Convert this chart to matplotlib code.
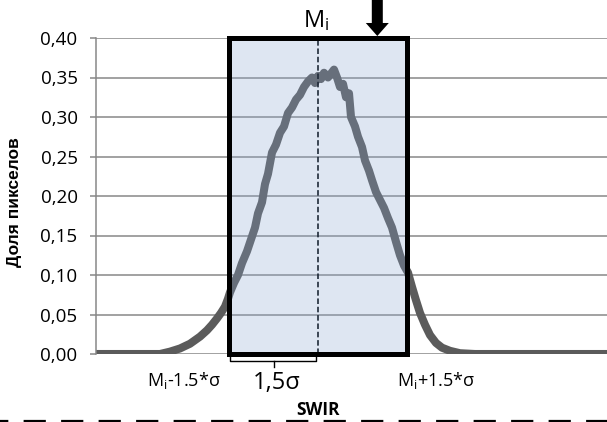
import matplotlib
matplotlib.use("Agg")
import matplotlib.pyplot as plt
from matplotlib.patches import Rectangle
from matplotlib.lines import Line2D

plt.rcParams['font.family'] = ['Open Sans', 'DejaVu Sans']
plt.rcParams['mathtext.fontset'] = 'custom'
plt.rcParams['mathtext.rm'] = 'Open Sans'
plt.rcParams['lines.scale_dashes'] = False

# SWIR values (no ticks on the x axis) and share of pixels
swir = [0, 24, 54, 64, 74, 84, 94, 104, 111, 116,
        121, 125, 129, 132, 134, 138, 142, 146, 151, 155,
        159, 162, 166, 169, 172, 176, 180, 184, 188, 192,
        196, 200, 204, 208, 212, 216, 219, 222, 225, 228,
        232, 235, 238, 241, 244, 247, 250, 253, 255, 259,
        262, 266, 269, 273, 276, 280, 284, 288, 292, 296,
        300, 304, 308, 312, 316, 320, 324, 329, 334, 340,
        346, 354, 364, 379, 511]
share = [0, 0, 0, 0, 0.003, 0.007, 0.013, 0.022, 0.030, 0.037,
         0.045, 0.052, 0.060, 0.070, 0.078, 0.090, 0.100, 0.115, 0.130, 0.145,
         0.160, 0.178, 0.192, 0.215, 0.228, 0.255, 0.265, 0.280, 0.288, 0.305,
         0.312, 0.322, 0.328, 0.338, 0.345, 0.350, 0.343, 0.352, 0.348, 0.356,
         0.350, 0.355, 0.360, 0.350, 0.338, 0.342, 0.325, 0.330, 0.300, 0.288,
         0.275, 0.262, 0.245, 0.232, 0.220, 0.205, 0.195, 0.185, 0.172, 0.160,
         0.142, 0.125, 0.112, 0.103, 0.085, 0.068, 0.052, 0.037, 0.024, 0.014,
         0.008, 0.004, 0.001, 0, 0]

mean_i = 222
sigma = 59.3
yticks = [0.0, 0.05, 0.10, 0.15, 0.20, 0.25, 0.30, 0.35, 0.40]
ytick_labels = ['0,00', '0,05', '0,10', '0,15', '0,20', '0,25', '0,30', '0,35', '0,40']

fig = plt.figure(figsize=(6.07, 4.22), dpi=100)
ax = fig.add_axes([96/607, 68/422, 511/607, 316/422])

ax.set_xlim(0, 511)
ax.set_ylim(0, 0.40)
ax.set_yticks(yticks)
ax.set_yticklabels(ytick_labels, fontsize=13.5)
ax.set_xticks([])
ax.tick_params(axis='y', length=4.3, width=1.1, color='#878787', pad=9, labelcolor='black')
ax.yaxis.grid(True, color='#878787', lw=1.1)
ax.set_axisbelow(True)
for s in ['top', 'right', 'bottom']:
    ax.spines[s].set_visible(False)
ax.spines['left'].set_color('#878787')
ax.spines['left'].set_linewidth(1.1)

ax.plot(swir, share, color='#5b5b5b', lw=5.8, zorder=2, solid_joinstyle='round')

lo = mean_i - 1.5 * sigma
hi = mean_i + 1.5 * sigma
# translucent window over the curve
ax.add_patch(Rectangle((lo, 0), hi - lo, 0.40, facecolor='#8aa7d3', alpha=0.275,
                       edgecolor='none', zorder=3))
ax.add_patch(Rectangle((lo, 0), hi - lo, 0.40, facecolor='none', edgecolor='black',
                       lw=3.6, zorder=5, clip_on=False, joinstyle='miter'))
ax.plot([mean_i, mean_i], [0, 0.40], color='#1f2a38', lw=1.2, ls=(0, (4, 2)), zorder=4)

# bracket for 1.5 sigma
ax.plot([lo + 1, lo + 1, mean_i - 2, mean_i - 2], [-0.001, -0.0089, -0.0089, -0.001],
        color='black', lw=1.0, clip_on=False, zorder=5)
ax.plot([(lo + mean_i) / 2, (lo + mean_i) / 2], [-0.0089, -0.0165],
        color='black', lw=1.0, clip_on=False, zorder=5)

# arrow at M + sigma
ax.arrow(mean_i + sigma, 0.4481, 0, -(0.4481 - 0.4025), width=11, head_width=23,
         head_length=0.0165, length_includes_head=True, fc='black', ec='none',
         clip_on=False, zorder=6)

ax.text(mean_i - 2, 0.4139, r'$\mathrm{M_i}$', fontsize=17, ha='center', va='baseline')
ax.text(lo - 8, -0.033, r'$\mathrm{M_i}$-1.5*σ', fontsize=13, ha='right', va='center')
ax.text(hi - 10, -0.033, r'$\mathrm{M_i}$+1.5*σ', fontsize=13, ha='left', va='center')
ax.text((lo + mean_i) / 2 + 3, -0.037, '1,5σ', fontsize=17, ha='center', va='center')
ax.text(mean_i, -0.071, 'SWIR', fontsize=12.5, fontweight='bold', ha='center', va='center')

ax.set_ylabel('Доля пикселов', fontsize=12.5, fontweight='bold',
              family=['Liberation Sans', 'DejaVu Sans'])
ax.yaxis.set_label_coords(-74/511, 0.48)

fig.add_artist(Line2D([0, 1], [1.5/422, 1.5/422], transform=fig.transFigure,
                      color='black', lw=1.6, ls=(10, (16, 11))))

fig.savefig('out.png', dpi=100)
